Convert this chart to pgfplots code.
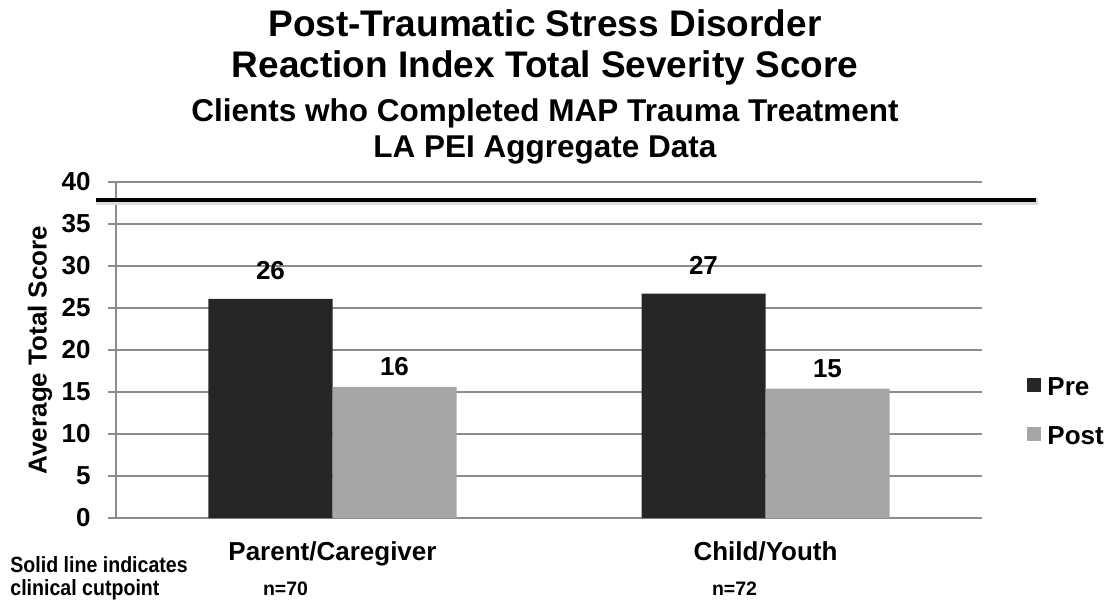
\documentclass[border=0pt]{standalone}
\usepackage{fontspec}
\setmainfont{Liberation Sans}
\usepackage{graphicx}
\usepackage{pgfplots}
\pgfplotsset{compat=1.18}
\definecolor{preC}{RGB}{38,38,38}
\definecolor{postC}{RGB}{166,166,166}
\definecolor{gridC}{RGB}{140,140,140}
\begin{document}
\begin{tikzpicture}
\useasboundingbox (-58pt,-41.5pt) rectangle (496.5pt,259pt);
\begin{axis}[
  at={(0pt,0pt)}, anchor=south west,
  width=433pt, height=168pt, scale only axis,
  xmin=-0.5, xmax=1.5, ymin=0, ymax=40,
  xtick={0,1}, xticklabels={Parent/Caregiver, Child/Youth},
  ytick={0,5,...,40},
  axis x line*=bottom, axis y line*=left,
  axis line style={gridC, line width=0.65pt},
  ymajorgrids, grid style={gridC, line width=0.65pt},
  tick align=outside, major tick length=4pt,
  ytick style={gridC, line width=0.65pt},
  xtick style={draw=none},
  tick label style={font=\fontsize{13}{15}\selectfont\bfseries},
  xticklabel style={font=\fontsize{13}{15}\selectfont\bfseries, anchor=base, yshift=-17pt},
  yticklabel style={anchor=east, inner sep=0pt, xshift=-8.5pt},
  /pgf/number format/assume math mode=true,
  /pgf/number format/fixed, /pgf/number format/precision=0,
  ylabel={Average Total Score},
  ylabel style={at={(axis description cs:-0.0878,0.5)}, anchor=center, font=\fontsize{13}{15}\selectfont\bfseries},
  clip=false,
  legend style={draw=none, fill=none, at={(1.052,0.4196)}, anchor=north west,
    inner sep=0pt, row sep=14pt, column sep=3pt,
    nodes={inner sep=0pt, font=\fontsize{13}{15}\selectfont\bfseries}},
  legend cell align=left,
  legend image code/.code={\fill[#1] (0pt,-2.2pt) rectangle (7pt,4.8pt);},
]
\addplot[forget plot, black!14, line width=3.5pt] coordinates {(-0.546,37.62) (1.63,37.62)};
\addplot[ybar, bar width=62pt, bar shift=-31pt, fill=preC, draw=none,
  nodes near coords, every node near coord/.append style={anchor=base, xshift=-31pt, yshift=9.75pt, text=black, font=\fontsize{13}{15}\selectfont\bfseries}]
  coordinates {(0,26.1) (1,26.7)};
\addlegendentry{Pre}
\addplot[ybar, bar width=62pt, bar shift=31pt, fill=postC, draw=none,
  nodes near coords, every node near coord/.append style={anchor=base, xshift=31pt, yshift=5.5pt, text=black, font=\fontsize{13}{15}\selectfont\bfseries}]
  coordinates {(0,15.6) (1,15.4)};
\addlegendentry{Post}
\addplot[forget plot, black, line width=2.25pt] coordinates {(-0.546,37.86) (1.625,37.86)};
\end{axis}
\node[anchor=base, font=\fontsize{18.5}{20}\selectfont\bfseries] at (214.5pt,240.5pt) {Post-Traumatic Stress Disorder};
\node[anchor=base, font=\fontsize{18.5}{20}\selectfont\bfseries] at (214.5pt,220pt) {Reaction Index Total Severity Score};
\node[anchor=base, font=\fontsize{15.75}{18}\selectfont\bfseries] at (214.5pt,198pt) {Clients who Completed MAP Trauma Treatment};
\node[anchor=base, font=\fontsize{15.75}{18}\selectfont\bfseries] at (214.5pt,180pt) {LA PEI Aggregate Data};
\node[anchor=base west, inner sep=0pt, font=\fontsize{11}{13}\selectfont\bfseries] at (-53pt,-27pt) {\scalebox{0.89}[1]{Solid line indicates}};
\node[anchor=base west, inner sep=0pt, font=\fontsize{11}{13}\selectfont\bfseries] at (-53pt,-38.5pt) {\scalebox{0.89}[1]{clinical cutpoint}};
\node[anchor=base, inner sep=0pt, font=\fontsize{9.75}{12}\selectfont\bfseries] at (84.75pt,-38.5pt) {n=70};
\node[anchor=base, inner sep=0pt, font=\fontsize{9.75}{12}\selectfont\bfseries] at (309.25pt,-38.5pt) {n=72};
\end{tikzpicture}
\end{document}
